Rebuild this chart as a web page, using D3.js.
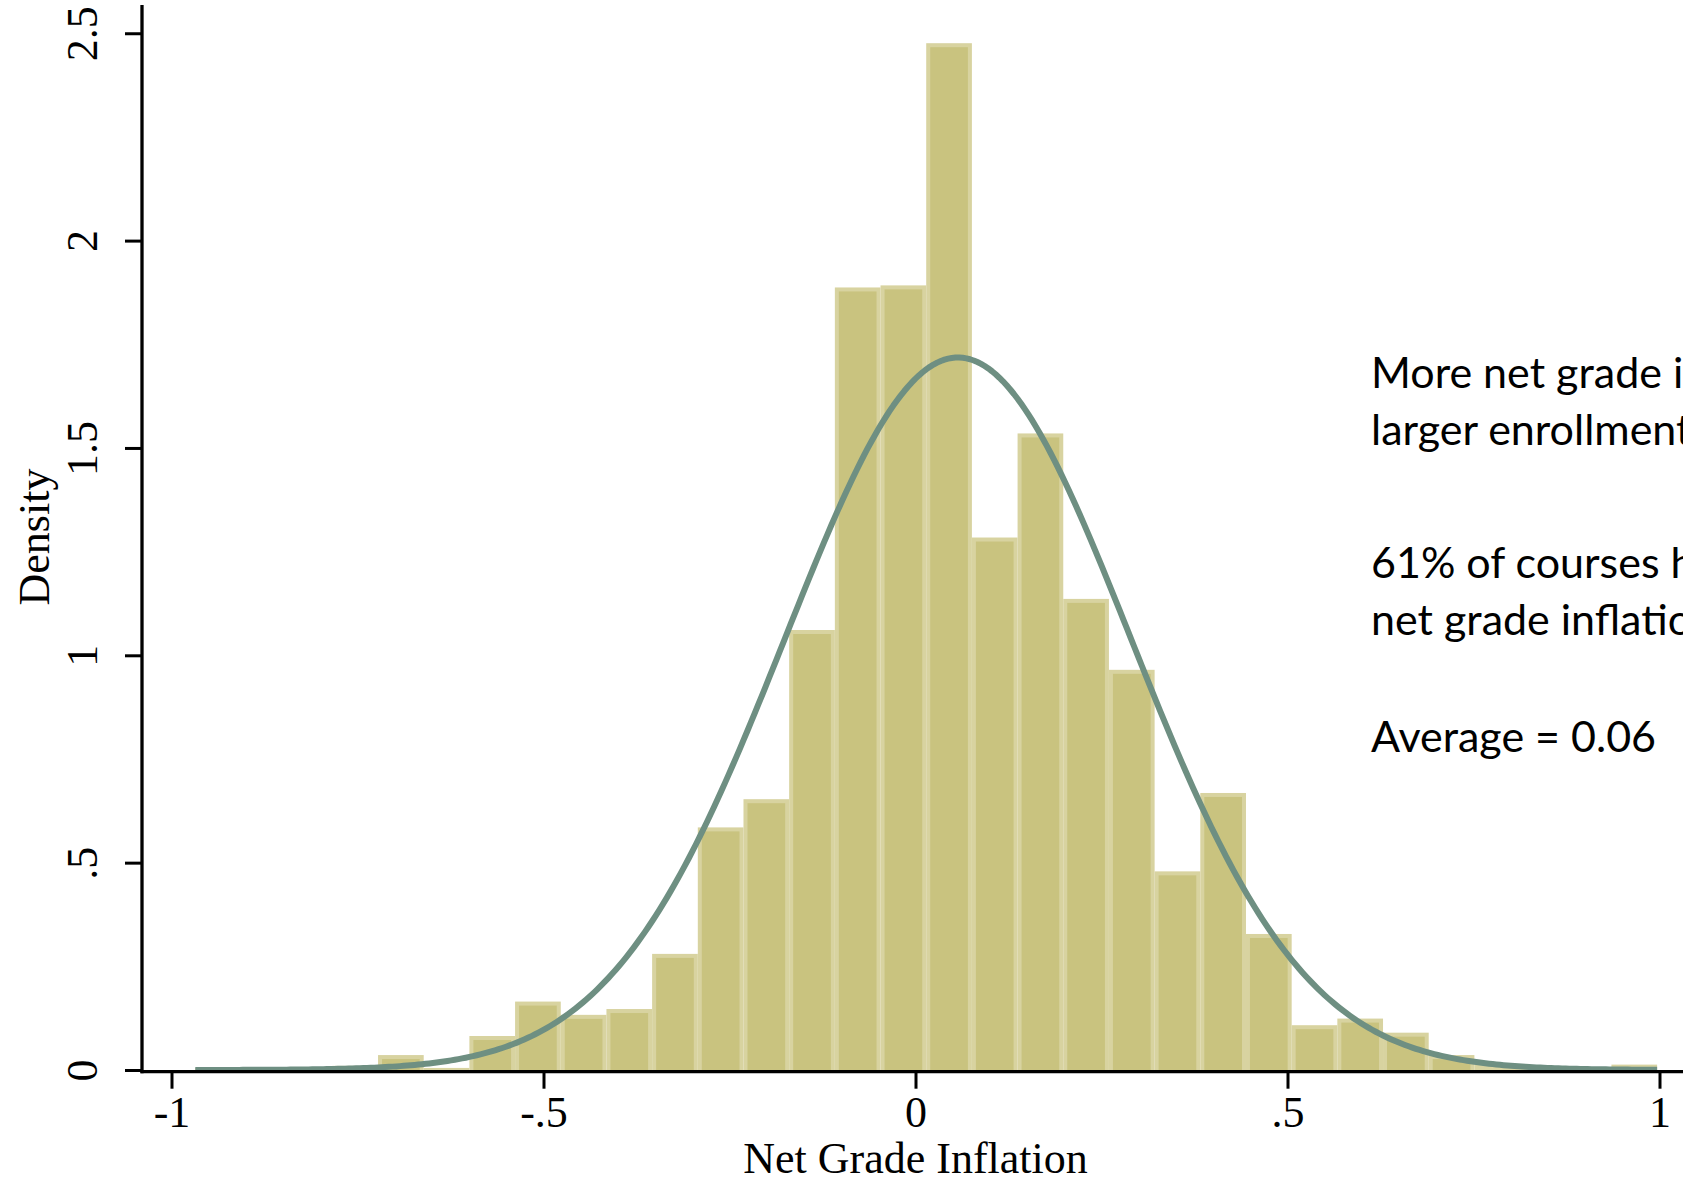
<!DOCTYPE html>
<html>
<head>
<meta charset="utf-8">
<script src="https://cdn.jsdelivr.net/npm/d3@7"></script>
<style>
  html, body { margin: 0; padding: 0; background: #ffffff; overflow: hidden; }
  svg { display: block; }
</style>
</head>
<body>
<svg id="chart" width="1683" height="1181"></svg>
<script>
// Histogram of net grade inflation (density scale), 32 equal-width bins
const binStart = -0.968;
const binWidth = 0.0614;
const densities = [
  0.005, 0.000, 0.007, 0.010, 0.036, 0.005, 0.082, 0.165,
  0.133, 0.147, 0.280, 0.585, 0.653, 1.061, 1.887, 1.892,
  2.476, 1.284, 1.535, 1.136, 0.965, 0.479, 0.668, 0.328,
  0.108, 0.124, 0.090, 0.036, 0.013, 0.009, 0.003, 0.013
];

// Fitted normal density overlay
const normalMean = 0.057;
const normalSD = 0.2322;

const xTicks = [-1, -0.5, 0, 0.5, 1];
const xTickLabels = ["-1", "-.5", "0", ".5", "1"];
const yTicks = [0, 0.5, 1, 1.5, 2, 2.5];
const yTickLabels = ["0", ".5", "1", "1.5", "2", "2.5"];

const xTitle = "Net Grade Inflation";
const yTitle = "Density";

const noteLines = [
  "More net grade inflation in",
  "larger enrollment courses",
  "61% of courses have positive",
  "net grade inflation",
  "Average = 0.06"
];

// ---- layout ----
const svg = d3.select("#chart");
const W = 1683, H = 1181;

const x = d3.scaleLinear().domain([-1, 1]).range([171.5, 1659.5]);
const y = d3.scaleLinear().domain([0, 2.5]).range([1070, 33.25]);

const barFill = "#c9c37f";
const barEdge = "#d8d3a0";
const curveColor = "#6e8f82";
const serif = "'Liberation Serif', 'Times New Roman', serif";

const bins = densities.map((d, i) => ({
  x0: binStart + i * binWidth,
  x1: binStart + (i + 1) * binWidth,
  d
}));

// bars: light outline band with darker inner fill
const inset = 4;
const barG = svg.append("g");
barG.selectAll("rect.outer")
  .data(bins.filter(b => b.d > 0))
  .join("rect")
  .attr("class", "outer")
  .attr("x", b => x(b.x0))
  .attr("width", b => x(b.x1) - x(b.x0))
  .attr("y", b => y(b.d))
  .attr("height", b => y(0) - y(b.d))
  .attr("fill", barEdge);

barG.selectAll("rect.inner")
  .data(bins.filter(b => y(0) - y(b.d) > inset * 2))
  .join("rect")
  .attr("class", "inner")
  .attr("x", b => x(b.x0) + inset)
  .attr("width", b => x(b.x1) - x(b.x0) - inset * 2)
  .attr("y", b => y(b.d) + inset)
  .attr("height", b => y(0) - y(b.d) - inset)
  .attr("fill", barFill);

// normal curve over the data range
const xMin = binStart, xMax = binStart + densities.length * binWidth;
const normalPdf = v => Math.exp(-0.5 * ((v - normalMean) / normalSD) ** 2) / (normalSD * Math.sqrt(2 * Math.PI));
const curvePts = d3.range(0, 401).map(i => {
  const v = xMin + (xMax - xMin) * i / 400;
  return [v, normalPdf(v)];
});
svg.append("path")
  .datum(curvePts)
  .attr("fill", "none")
  .attr("stroke", curveColor)
  .attr("stroke-width", 6)
  .attr("stroke-linejoin", "round")
  .attr("d", d3.line().x(p => x(p[0])).y(p => y(p[1])).curve(d3.curveLinear));

// axes
const axisY0 = 1071.7;   // x-axis line
const axisX0 = 142;      // y-axis line

const xAxis = d3.axisBottom(x)
  .tickValues(xTicks)
  .tickFormat((d, i) => xTickLabels[i])
  .tickSizeInner(17)
  .tickSizeOuter(0);
const gx = svg.append("g").attr("transform", `translate(0,${axisY0})`).call(xAxis);
gx.select(".domain").remove();
gx.selectAll(".tick line").attr("stroke", "#000").attr("stroke-width", 3);
gx.selectAll(".tick text")
  .attr("fill", "#000")
  .attr("y", 55.5)
  .attr("dy", null)
  .style("font-family", serif)
  .style("font-size", "44px");
gx.append("line")
  .attr("x1", axisX0 - 1.5).attr("x2", W)
  .attr("y1", 0).attr("y2", 0)
  .attr("stroke", "#000").attr("stroke-width", 3.3);

const yAxis = d3.axisLeft(y)
  .tickValues(yTicks)
  .tickFormat((d, i) => yTickLabels[i])
  .tickSizeInner(17)
  .tickSizeOuter(0)
  .tickPadding(0);
const gy = svg.append("g").attr("transform", `translate(${axisX0},0)`).call(yAxis);
gy.select(".domain").remove();
gy.selectAll(".tick line").attr("stroke", "#000").attr("stroke-width", 3);
gy.selectAll(".tick text")
  .attr("fill", "#000")
  .attr("x", null).attr("dy", null)
  .attr("text-anchor", "middle")
  .attr("transform", "translate(-45,0) rotate(-90)")
  .style("font-family", serif)
  .style("font-size", "44px");
gy.append("line")
  .attr("x1", 0).attr("x2", 0)
  .attr("y1", 5).attr("y2", axisY0 + 1.65)
  .attr("stroke", "#000").attr("stroke-width", 3.3);

// axis titles
svg.append("text")
  .attr("x", x(0)).attr("y", 1173)
  .attr("text-anchor", "middle")
  .style("font-family", serif)
  .style("font-size", "44px")
  .text(xTitle);

svg.append("text")
  .attr("transform", `translate(49,537) rotate(-90)`)
  .attr("text-anchor", "middle")
  .style("font-family", serif)
  .style("font-size", "44px")
  .text(yTitle);

// annotation block
const noteBaselines = [388, 445, 578, 635, 752];
svg.append("g").selectAll("text")
  .data(noteLines)
  .join("text")
  .attr("x", 1371)
  .attr("y", (d, i) => noteBaselines[i])
  .style("font-family", "Lato, 'Open Sans', sans-serif")
  .style("font-size", "43px")
  .attr("fill", "#000")
  .text(d => d);
</script>
</body>
</html>
